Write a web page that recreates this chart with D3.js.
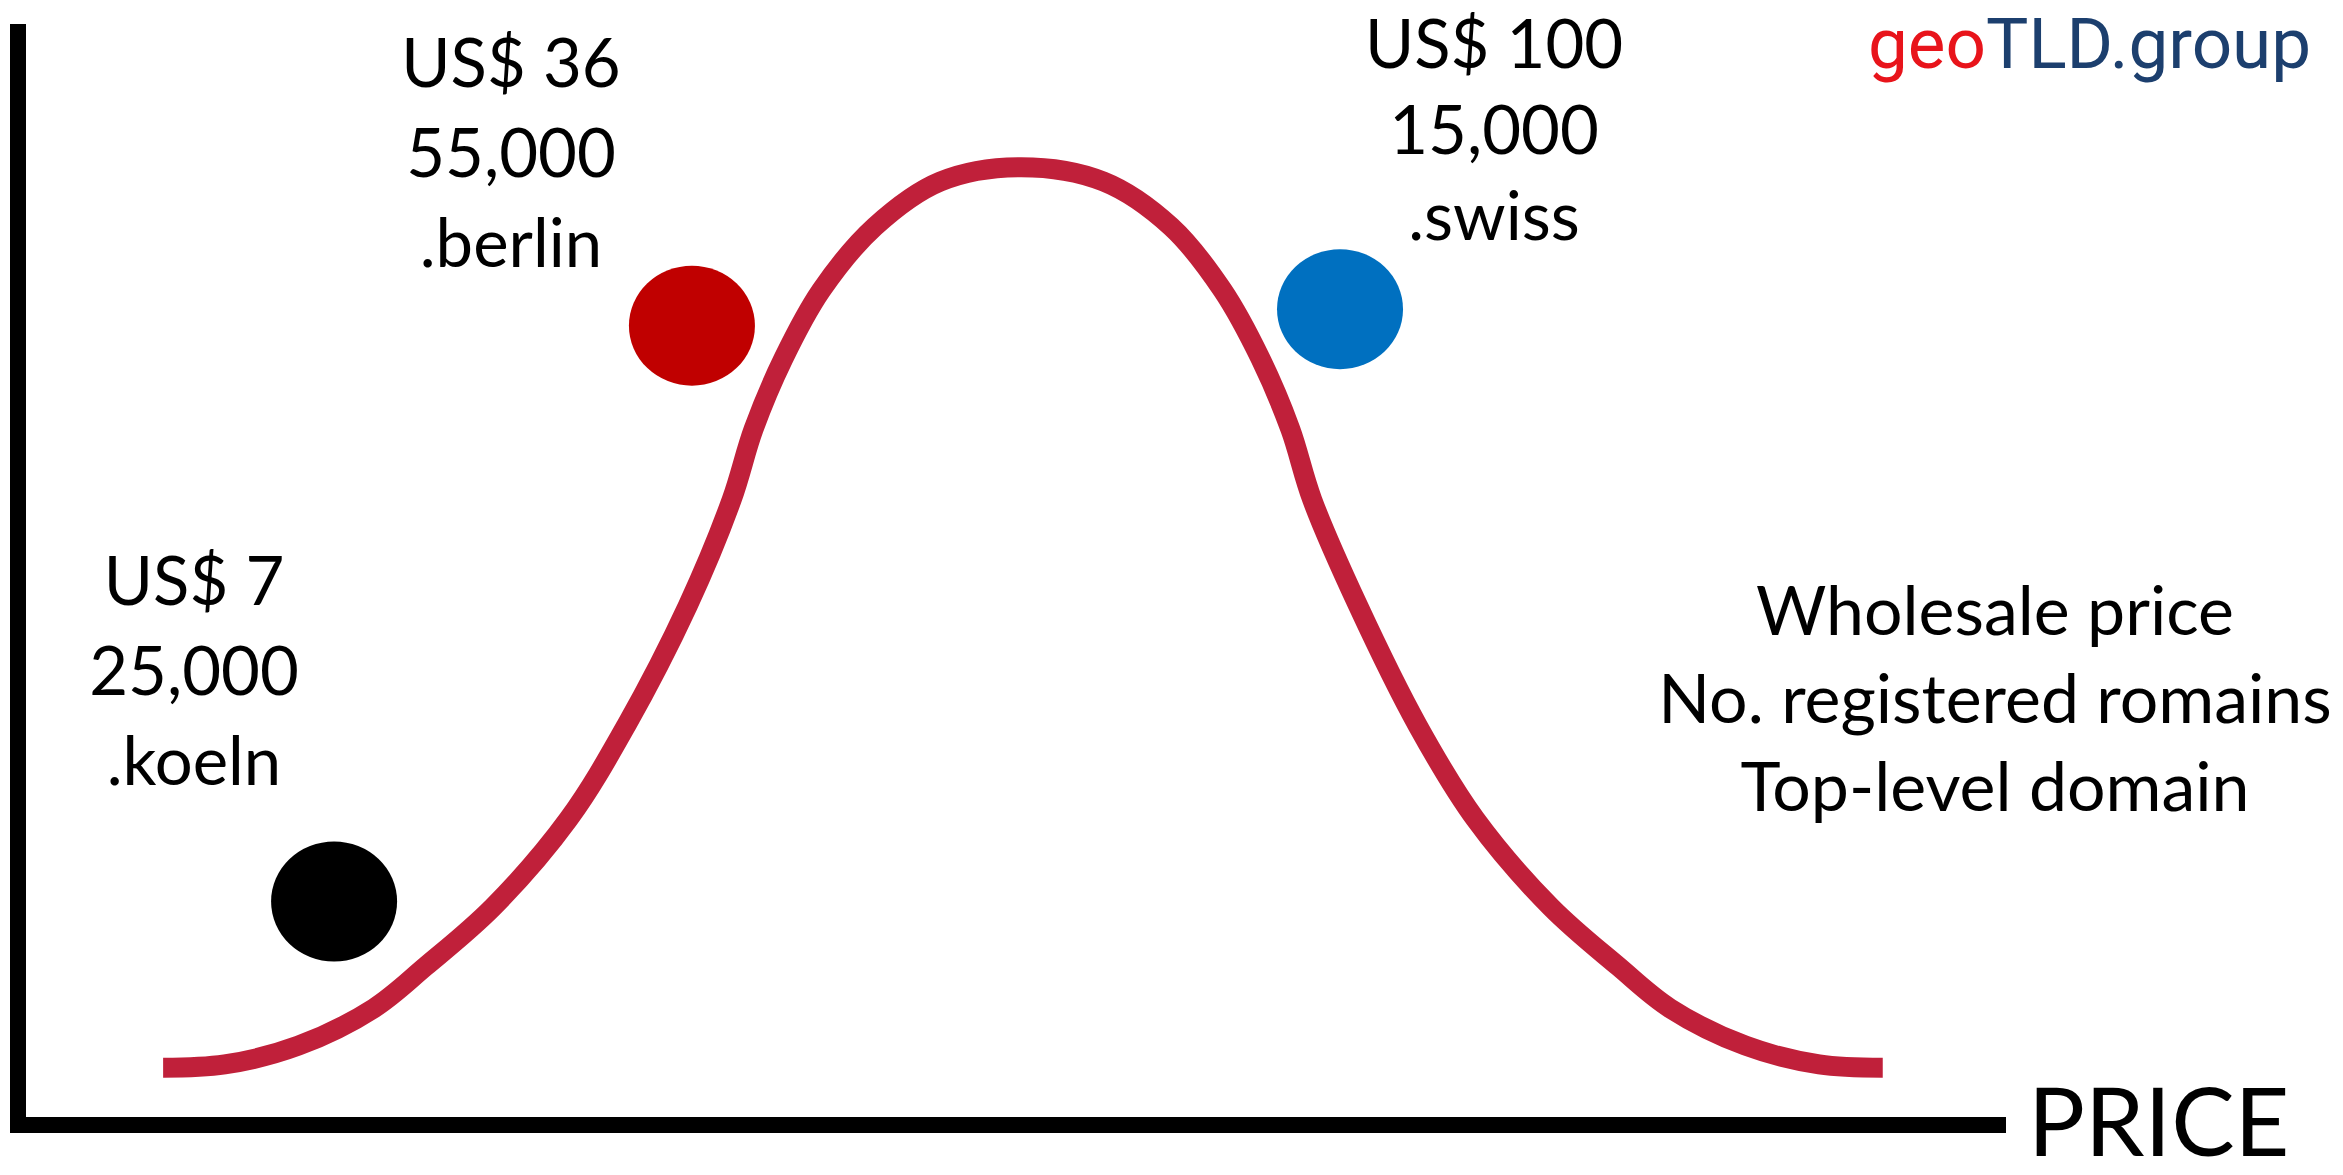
<html>
  <head>
    <title>geoTLD price curve</title>
  <style type="text/css">
    body{
      margin: 0;
      background: white;
      font-family: Lato, sans-serif;
    }
  </style>
  </head>
  <body>
    <script src="https://d3js.org/d3.v7.min.js"></script>
    <div id="graph_item"></div>
    <script>

// bell curve (x = price, y = demand, both 0-100)
var curveX = [7.3, 10.4, 14.1, 17.9, 20.5, 23.9, 27.7, 30.6, 33.7, 35.9, 37.0, 38.5, 40.4, 43.1, 46.4, 50.4,
              54.6, 58.0, 60.6, 62.5, 64.0, 65.1, 67.4, 70.4, 73.3, 77.1, 80.5, 83.1, 86.9, 90.6, 93.8];
var curveY = [5.2, 5.5, 7.2, 10.6, 14.4, 19.8, 27.8, 36.3, 47.2, 56.8, 63.2, 69.6, 75.8, 81.6, 85.7, 87.0,
              85.7, 81.6, 75.8, 69.6, 63.2, 56.8, 47.2, 36.3, 27.8, 19.8, 14.4, 10.6, 7.2, 5.5, 5.2];

// the three domains
var tlds = [".koeln", ".berlin", ".swiss"];
var prices = ["US$ 7", "US$ 36", "US$ 100"];
var registered = ["25,000", "55,000", "15,000"];
var dotX = [15.9, 33.9, 66.5];
var dotY = [20.3, 72.6, 74.1];

var legendLines = ["Wholesale price", "No. registered romains", "Top-level domain"];
var axisTitle = "PRICE";

var width = 2343, height = 1175;

var svg = d3.select("#graph_item")
  .append("svg")
    .attr("width", width)
    .attr("height", height);

var x = d3.scaleLinear().domain([0, 100]).range([18, 2006]);
var y = d3.scaleLinear().domain([0, 100]).range([1125, 24]);

// axes, plain thick lines with no ticks
svg.append("line")
  .attr("x1", x(0)).attr("x2", x(0))
  .attr("y1", y(100)).attr("y2", y(0) + 8)
  .attr("stroke", "black").attr("stroke-width", 16);
svg.append("line")
  .attr("x1", x(0) - 8).attr("x2", x(100))
  .attr("y1", y(0)).attr("y2", y(0))
  .attr("stroke", "black").attr("stroke-width", 16);

svg.append("text")
  .attr("x", x(100) + 22)
  .attr("y", 1156)
  .style("font-size", "95px")
  .style("font-family", "Lato, sans-serif")
  .attr("fill", "black")
  .text(axisTitle);

// the curve
var pts = curveX.map(function(d, i){ return [d, curveY[i]]; });
svg.append("path")
  .datum(pts)
  .attr("fill", "none")
  .attr("stroke", "#C0203A")
  .attr("stroke-width", 20)
  .attr("d", d3.line()
    .x(function(d){ return x(d[0]); })
    .y(function(d){ return y(d[1]); })
    .curve(d3.curveCatmullRom.alpha(0.5)));

// dots
var dotColor = ["#000000", "#C00000", "#0070C0"];
svg.selectAll(".dot")
  .data(tlds)
  .join("ellipse")
    .attr("class", "dot")
    .attr("cx", function(d, i){ return x(dotX[i]); })
    .attr("cy", function(d, i){ return y(dotY[i]); })
    .attr("rx", 63)
    .attr("ry", 60)
    .attr("fill", function(d, i){ return dotColor[i]; });

// label blocks: centre x, first baseline and line gap, in pixels
var labelPos = [[194, 605, 90], [511, 87, 90], [1494, 68, 86]];

tlds.forEach(function(t, i){
  var lines = [prices[i], registered[i], t];
  svg.append("g")
    .selectAll("text")
    .data(lines)
    .join("text")
      .attr("x", labelPos[i][0])
      .attr("y", function(d, j){ return labelPos[i][1] + j * labelPos[i][2]; })
      .attr("text-anchor", "middle")
      .style("font-size", "67px")
      .style("font-family", "Lato, sans-serif")
      .attr("fill", "black")
      .text(function(d){ return d; });
});

svg.append("g")
  .selectAll("text")
  .data(legendLines)
  .join("text")
    .attr("x", 1995)
    .attr("y", function(d, j){ return 635 + j * 88; })
    .attr("text-anchor", "middle")
    .style("font-size", "68px")
    .style("font-family", "Lato, sans-serif")
    .attr("fill", "black")
    .text(function(d){ return d; });

// logo
var logo = svg.append("text")
  .attr("x", 1868)
  .attr("y", 68)
  .style("font-size", "71px")
  .style("font-family", "Roboto, sans-serif");
logo.append("tspan").attr("fill", "#E8141B").text("geo");
logo.append("tspan").attr("fill", "#1C3F6E").text("TLD.group");

</script>
  </body>
</html>
